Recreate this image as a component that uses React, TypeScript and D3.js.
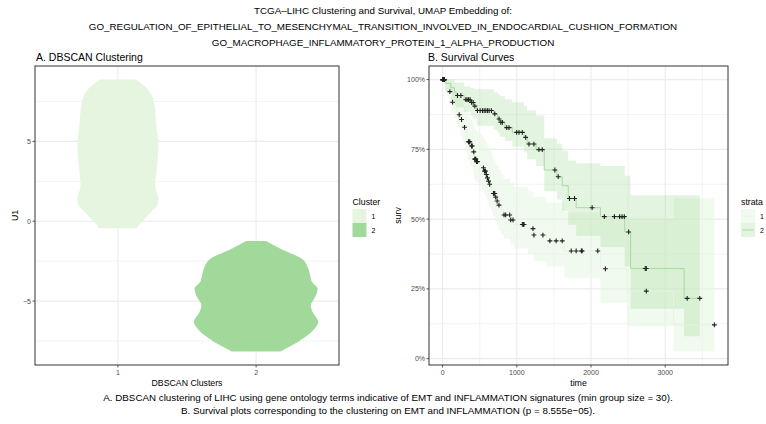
import React from "react";
import * as d3 from "d3";

const W = 766;
const H = 424;

const titleLines = [
  "TCGA\u2013LIHC Clustering and Survival, UMAP Embedding of:",
  "GO_REGULATION_OF_EPITHELIAL_TO_MESENCHYMAL_TRANSITION_INVOLVED_IN_ENDOCARDIAL_CUSHION_FORMATION",
  "GO_MACROPHAGE_INFLAMMATORY_PROTEIN_1_ALPHA_PRODUCTION",
];
const captionLines = [
  "A. DBSCAN clustering of LIHC using gene ontology terms indicative of EMT and INFLAMMATION signatures (min group size = 30).",
  "B. Survival plots corresponding to the clustering on EMT and INFLAMMATION (p = 8.555e\u221205).",
];

// Panel A: violin profiles (U1 value, relative density width)
const clusters = ["1", "2"];
const clusterColors = ["#E5F5E0", "#A1D99B"];
const violin1U = [8.87, 8.27, 7.44, 5.98, 4.73, 3.48, 2.23, 1.39, 0.98, 0.56, 0.14, -0.27, -0.44];
const violin1Dens = [0.29, 0.48, 0.58, 0.62, 0.65, 0.63, 0.6, 0.65, 0.63, 0.53, 0.43, 0.33, 0.31];
const violin2U = [-1.23, -1.73, -2.36, -2.87, -3.4, -3.81, -4.23, -4.75, -5.27, -5.69, -6.31, -6.73, -7.25, -7.77, -8.15];
const violin2Dens = [0.16, 0.4, 0.74, 0.83, 0.87, 0.9, 0.99, 0.95, 0.88, 0.91, 1.0, 0.94, 0.79, 0.58, 0.39];
const yTicksA = [-5, 0, 5];
const yMinorA = [-7.5, -2.5, 2.5, 7.5];

// Panel B: Kaplan-Meier steps
const s1Time = [0, 30, 60, 85, 120, 130, 160, 190, 215, 240, 270, 285, 310, 325, 335, 345, 375, 405, 415, 425, 432, 455, 500, 530, 560, 580, 600, 615, 630, 660, 680, 710, 730, 755, 790, 820, 910, 960, 1150, 1225, 1400, 1640, 2127, 2485, 3112];
const s1Surv = [1, 0.986, 0.972, 0.957, 0.938, 0.919, 0.901, 0.887, 0.874, 0.857, 0.843, 0.829, 0.815, 0.801, 0.789, 0.777, 0.762, 0.748, 0.741, 0.728, 0.715, 0.706, 0.695, 0.684, 0.672, 0.66, 0.648, 0.636, 0.625, 0.608, 0.592, 0.579, 0.565, 0.55, 0.533, 0.515, 0.497, 0.481, 0.466, 0.443, 0.422, 0.386, 0.322, 0.242, 0.121];
const s1Lower = [1, 0.96, 0.94, 0.92, 0.9, 0.88, 0.86, 0.84, 0.825, 0.8, 0.785, 0.77, 0.75, 0.735, 0.72, 0.71, 0.69, 0.675, 0.665, 0.65, 0.64, 0.63, 0.62, 0.605, 0.59, 0.58, 0.565, 0.555, 0.54, 0.525, 0.51, 0.49, 0.48, 0.46, 0.445, 0.43, 0.41, 0.395, 0.375, 0.35, 0.33, 0.29, 0.2, 0.116, 0.026];
const s1Upper = [1, 1, 1, 0.99, 0.98, 0.97, 0.96, 0.95, 0.94, 0.925, 0.915, 0.905, 0.895, 0.885, 0.875, 0.865, 0.855, 0.845, 0.84, 0.83, 0.82, 0.815, 0.805, 0.795, 0.785, 0.775, 0.765, 0.755, 0.745, 0.73, 0.715, 0.7, 0.69, 0.675, 0.66, 0.645, 0.63, 0.615, 0.6, 0.58, 0.56, 0.525, 0.5, 0.5, 0.575];
const s1End = 3663;
const s1Censor = [0, 3, 6, 10, 14, 18, 22, 98, 134, 224, 255, 296, 349, 355, 360, 367, 390, 400, 420, 434, 440, 447, 458, 470, 551, 565, 578, 590, 605, 620, 635, 685, 695, 703, 716, 735, 760, 828, 850, 904, 918, 949, 1075, 1090, 1097, 1218, 1231, 1352, 1446, 1530, 1612, 1733, 1800, 1870, 1881, 2091, 2194, 2745, 3663];

const s2Time = [0, 40, 110, 160, 180, 290, 380, 420, 460, 690, 740, 770, 840, 940, 1100, 1140, 1260, 1370, 1540, 1612, 1693, 1800, 2127, 2454, 2534, 3255];
const s2Surv = [1, 0.986, 0.971, 0.957, 0.943, 0.928, 0.918, 0.905, 0.889, 0.877, 0.859, 0.847, 0.828, 0.811, 0.793, 0.769, 0.749, 0.676, 0.652, 0.62, 0.574, 0.541, 0.509, 0.454, 0.323, 0.216];
const s2Lower = [1, 0.96, 0.93, 0.91, 0.9, 0.885, 0.87, 0.86, 0.835, 0.82, 0.81, 0.795, 0.78, 0.76, 0.74, 0.715, 0.69, 0.6, 0.57, 0.53, 0.48, 0.44, 0.4, 0.33, 0.179, 0.08];
const s2Upper = [1, 1, 1, 0.99, 0.99, 0.975, 0.97, 0.965, 0.965, 0.955, 0.949, 0.94, 0.93, 0.919, 0.905, 0.889, 0.871, 0.79, 0.77, 0.745, 0.71, 0.7, 0.69, 0.655, 0.586, 0.586];
const s2End = 3466;
const s2Censor = [0, 5, 10, 15, 20, 25, 201, 246, 313, 330, 350, 370, 390, 412, 434, 470, 506, 537, 560, 582, 605, 627, 658, 703, 761, 784, 806, 864, 895, 998, 1030, 1074, 1119, 1164, 1231, 1298, 1343, 1513, 1558, 1710, 1778, 2015, 2180, 2315, 2386, 2418, 2449, 2507, 2731, 2745, 3296, 3466];

const strataNames = ["1", "2"];
const strataColors = ["#E5F5E0", "#A1D99B"];
const strataBandOpacity = [0.55, 0.3];
const xTicksB = [0, 1000, 2000, 3000];
const xMinorB = [500, 1500, 2500, 3500];
const yTicksB = [0, 0.25, 0.5, 0.75, 1];
const yMinorB = [0.125, 0.375, 0.625, 0.875];

const FONT = "'Liberation Sans', Arial, Helvetica, sans-serif";
const GRID = "#EBEBEB";
const TICKTXT = "#4D4D4D";
const FS_MAIN = 9.8;
const FS_PANEL = 10.5;
const FS_AXIS = 8.75;
const FS_TICK = 7;

const pA = { left: 35, right: 339, top: 66, bottom: 365 };
const pB = { left: 429, right: 728, top: 66, bottom: 365 };

export default function App() {
  // ---- Panel A scales
  const allU = [...violin1U, ...violin2U];
  const uMin = d3.min(allU) as number;
  const uMax = d3.max(allU) as number;
  const uPad = (uMax - uMin) * 0.05;
  const yA = d3.scaleLinear().domain([uMin - uPad, uMax + uPad]).range([pA.bottom, pA.top]);
  const xA = d3.scaleLinear().domain([0.4, 2.6]).range([pA.left, pA.right]);
  const unitPx = xA(2) - xA(1);
  const wA = d3.scaleLinear().domain([0, 1]).range([0, unitPx * 0.45]);

  const violins = [
    { u: violin1U, d: violin1Dens },
    { u: violin2U, d: violin2Dens },
  ].map((v, i) => {
    const cx = xA(i + 1);
    const pts = v.u.map((u, j) => ({ u, d: v.d[j] }));
    const area = d3
      .area<{ u: number; d: number }>()
      .y((p) => yA(p.u))
      .x0((p) => cx - wA(p.d))
      .x1((p) => cx + wA(p.d))
      .curve(d3.curveMonotoneY);
    return { path: area(pts) as string, color: clusterColors[i] };
  });

  // ---- Panel B scales
  const tMax = Math.max(s1End, s2End);
  const xB = d3.scaleLinear().domain([-tMax * 0.05, tMax * 1.05]).range([pB.left, pB.right]);
  const sMin = Math.min(d3.min(s1Lower) as number, d3.min(s2Lower) as number);
  const sSpan = 1 - sMin;
  const yB = d3.scaleLinear().domain([sMin - sSpan * 0.05, 1 + sSpan * 0.05]).range([pB.bottom, pB.top]);

  const strata = [
    { t: s1Time, s: s1Surv, lo: s1Lower, hi: s1Upper, end: s1End, cens: s1Censor },
    { t: s2Time, s: s2Surv, lo: s2Lower, hi: s2Upper, end: s2End, cens: s2Censor },
  ].map((st, i) => {
    const pts = st.t.map((t, j) => ({ t, s: st.s[j], lo: st.lo[j], hi: st.hi[j] }));
    const last = pts[pts.length - 1];
    pts.push({ t: st.end, s: last.s, lo: last.lo, hi: last.hi });
    const line = d3
      .line<any>()
      .x((p) => xB(p.t))
      .y((p) => yB(p.s))
      .curve(d3.curveStepAfter);
    const band = d3
      .area<any>()
      .x((p) => xB(p.t))
      .y0((p) => yB(p.lo))
      .y1((p) => yB(p.hi))
      .curve(d3.curveStepAfter);
    const marks = st.cens.map((c) => {
      const idx = Math.max(0, d3.bisectRight(st.t, c) - 1);
      return { x: xB(c), y: yB(st.s[idx]) };
    });
    return { line: line(pts) as string, band: band(pts) as string, marks, color: strataColors[i], op: strataBandOpacity[i] };
  });

  const plus = "M-2.4,0H2.4M0,-2.4V2.4";

  return (
    <svg width={W} height={H} style={{ display: "block", position: "absolute", left: 0, top: 0 }} fontFamily={FONT}>
      <rect x={0} y={0} width={W} height={H} fill="#fff" />
      {/* Titles */}
      {titleLines.map((t, i) => (
        <text key={i} x={383} y={14 + i * 16} textAnchor="middle" fontSize={FS_MAIN} fill="#000">
          {t}
        </text>
      ))}
      <text x={36} y={61} fontSize={FS_PANEL} fill="#000">A. DBSCAN Clustering</text>
      <text x={428} y={61} fontSize={FS_PANEL} fill="#000">B. Survival Curves</text>

      {/* ---------- Panel A ---------- */}
      <g>
        {yMinorA.map((v) => (
          <line key={"mn" + v} x1={pA.left} x2={pA.right} y1={yA(v)} y2={yA(v)} stroke={GRID} strokeWidth={0.6} />
        ))}
        {yTicksA.map((v) => (
          <line key={"mj" + v} x1={pA.left} x2={pA.right} y1={yA(v)} y2={yA(v)} stroke={GRID} strokeWidth={1.1} />
        ))}
        {clusters.map((c, i) => (
          <line key={"vx" + c} x1={xA(i + 1)} x2={xA(i + 1)} y1={pA.top} y2={pA.bottom} stroke={GRID} strokeWidth={1.1} />
        ))}
        {violins.map((v, i) => (
          <path key={i} d={v.path} fill={v.color} stroke="none" />
        ))}
        <rect x={pA.left} y={pA.top} width={pA.right - pA.left} height={pA.bottom - pA.top} fill="none" stroke="#333" strokeWidth={1} />
        {yTicksA.map((v) => (
          <g key={"yt" + v}>
            <line x1={pA.left - 2.5} x2={pA.left} y1={yA(v)} y2={yA(v)} stroke="#333" strokeWidth={0.8} />
            <text x={pA.left - 4} y={yA(v) + 2.4} textAnchor="end" fontSize={FS_TICK} fill={TICKTXT}>
              {v < 0 ? "\u2212" + Math.abs(v) : String(v)}
            </text>
          </g>
        ))}
        {clusters.map((c, i) => (
          <g key={"xt" + c}>
            <line x1={xA(i + 1)} x2={xA(i + 1)} y1={pA.bottom} y2={pA.bottom + 2.5} stroke="#333" strokeWidth={0.8} />
            <text x={xA(i + 1)} y={pA.bottom + 10} textAnchor="middle" fontSize={FS_TICK} fill={TICKTXT}>{c}</text>
          </g>
        ))}
        <text x={(pA.left + pA.right) / 2} y={386} textAnchor="middle" fontSize={FS_AXIS} fill="#000">DBSCAN Clusters</text>
        <text transform={`translate(18,${(pA.top + pA.bottom) / 2}) rotate(-90)`} textAnchor="middle" fontSize={FS_AXIS} fill="#000">U1</text>
        {/* legend */}
        <text x={352.5} y={205} fontSize={FS_AXIS} fill="#000">Cluster</text>
        {clusters.map((c, i) => (
          <g key={"lg" + c}>
            <rect x={352.5} y={209 + i * 14} width={14} height={14} fill={clusterColors[i]} />
            <text x={371.5} y={218.5 + i * 14} fontSize={FS_TICK} fill="#000">{c}</text>
          </g>
        ))}
      </g>

      {/* ---------- Panel B ---------- */}
      <g>
        {yMinorB.map((v) => (
          <line key={"bmn" + v} x1={pB.left} x2={pB.right} y1={yB(v)} y2={yB(v)} stroke={GRID} strokeWidth={0.6} />
        ))}
        {xMinorB.map((v) => (
          <line key={"bmx" + v} x1={xB(v)} x2={xB(v)} y1={pB.top} y2={pB.bottom} stroke={GRID} strokeWidth={0.6} />
        ))}
        {yTicksB.map((v) => (
          <line key={"bmj" + v} x1={pB.left} x2={pB.right} y1={yB(v)} y2={yB(v)} stroke={GRID} strokeWidth={1.1} />
        ))}
        {xTicksB.map((v) => (
          <line key={"bxj" + v} x1={xB(v)} x2={xB(v)} y1={pB.top} y2={pB.bottom} stroke={GRID} strokeWidth={1.1} />
        ))}
        {strata.map((s, i) => (
          <path key={"band" + i} d={s.band} fill={s.color} fillOpacity={s.op} stroke="none" />
        ))}
        {strata.map((s, i) => (
          <path key={"line" + i} d={s.line} fill="none" stroke={s.color} strokeWidth={0.9} />
        ))}
        {strata.map((s, i) => (
          <g key={"cens" + i}>
            {s.marks.map((m, j) => (
              <path key={j} d={plus} transform={`translate(${m.x},${m.y})`} stroke="#222" strokeWidth={1.1} fill="none" />
            ))}
          </g>
        ))}
        <rect x={pB.left} y={pB.top} width={pB.right - pB.left} height={pB.bottom - pB.top} fill="none" stroke="#333" strokeWidth={1} />
        {yTicksB.map((v) => (
          <g key={"byt" + v}>
            <line x1={pB.left - 2.5} x2={pB.left} y1={yB(v)} y2={yB(v)} stroke="#333" strokeWidth={0.8} />
            <text x={pB.left - 4} y={yB(v) + 2.4} textAnchor="end" fontSize={FS_TICK} fill={TICKTXT}>
              {d3.format(".0%")(v)}
            </text>
          </g>
        ))}
        {xTicksB.map((v) => (
          <g key={"bxt" + v}>
            <line x1={xB(v)} x2={xB(v)} y1={pB.bottom} y2={pB.bottom + 2.5} stroke="#333" strokeWidth={0.8} />
            <text x={xB(v)} y={pB.bottom + 10} textAnchor="middle" fontSize={FS_TICK} fill={TICKTXT}>{v}</text>
          </g>
        ))}
        <text x={(pB.left + pB.right) / 2} y={386} textAnchor="middle" fontSize={FS_AXIS} fill="#000">time</text>
        <text transform={`translate(401,${(pB.top + pB.bottom) / 2}) rotate(-90)`} textAnchor="middle" fontSize={FS_AXIS} fill="#000">surv</text>
        {/* legend */}
        <text x={741} y={205} fontSize={FS_AXIS} fill="#000">strata</text>
        {strataNames.map((c, i) => (
          <g key={"slg" + c}>
            <rect x={741} y={209 + i * 14} width={14} height={14} fill={strataColors[i]} fillOpacity={strataBandOpacity[i]} />
            <line x1={742.5} x2={753.5} y1={216 + i * 14} y2={216 + i * 14} stroke={strataColors[i]} strokeWidth={0.9} />
            <text x={760} y={218.5 + i * 14} fontSize={FS_TICK} fill="#000">{c}</text>
          </g>
        ))}
      </g>

      {/* Caption */}
      {captionLines.map((t, i) => (
        <text key={"cap" + i} x={388} y={401 + i * 13} textAnchor="middle" fontSize={FS_MAIN} fill="#000">
          {t}
        </text>
      ))}
    </svg>
  );
}
